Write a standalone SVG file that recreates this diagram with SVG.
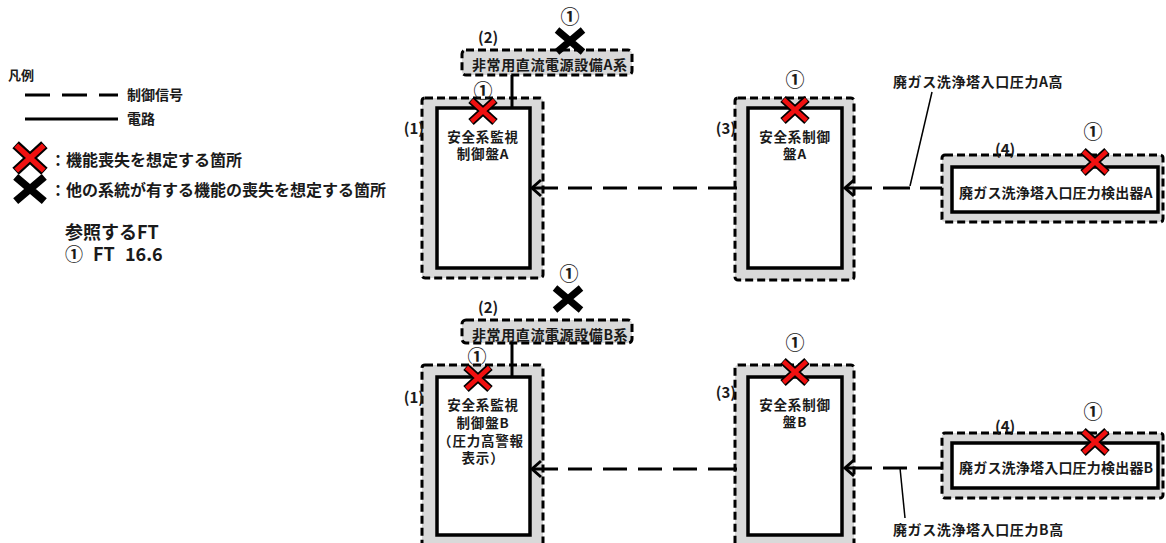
<svg xmlns="http://www.w3.org/2000/svg" width="1166" height="543" viewBox="0 0 1166 543">
<style>
text{font-family:"Noto Sans CJK JP","Noto Sans CJK SC",sans-serif;font-weight:bold;fill:#1a1a1a}
.t{font-size:14px;letter-spacing:0.6px}
.tc{font-size:13.5px;letter-spacing:0.8px;text-anchor:middle}
.num{font-size:19px;text-anchor:middle}
.lbl{font-size:15px}
.outer{fill:#d9d9d9;stroke:#000;stroke-width:3;stroke-dasharray:8 4}
.inner{fill:#fff;stroke:#000;stroke-width:3.5}
.sig{fill:none;stroke:#000;stroke-width:3}
.pwr{fill:none;stroke:#000;stroke-width:3}
.lead{fill:none;stroke:#000;stroke-width:1.5}
</style>
<defs>
<g id="rx"><path d="M-12,-11L12,11M-12,11L12,-11" stroke="#000" stroke-width="8"/><path d="M-11.5,-10.5L11.5,10.5M-11.5,10.5L11.5,-10.5" stroke="#f01010" stroke-width="4.5"/></g>
<g id="bx"><path d="M-13,-11L13,11M-13,11L13,-11" stroke="#000" stroke-width="7"/></g>
<marker id="ah" markerUnits="userSpaceOnUse" markerWidth="24" markerHeight="24" refX="0" refY="0" viewBox="-12 -12 24 24" orient="auto" overflow="visible"><path d="M-9,-8L0,0L-9,8" fill="none" stroke="#000" stroke-width="3"/></marker>
</defs>
<rect width="1166" height="543" fill="#fff"/>

<g id="legend">
<text x="8" y="80" style="font-size:13px">凡例</text>
<line x1="25" y1="95" x2="118" y2="95" stroke="#000" stroke-width="3" stroke-dasharray="25 12"/>
<text x="127" y="100" style="font-size:14px">制御信号</text>
<line x1="25" y1="119" x2="118" y2="119" stroke="#000" stroke-width="3"/>
<text x="127" y="124" style="font-size:14px">電路</text>
<use href="#rx" transform="translate(30,158) scale(1.2)"/>
<text x="50" y="166" style="font-size:16px">：機能喪失を想定する箇所</text>
<use href="#bx" transform="translate(30,189) scale(1.1)"/>
<text x="50" y="196" style="font-size:16px">：他の系統が有する機能の喪失を想定する箇所</text>
<text x="65" y="239" style="font-size:18px">参照するFT</text>
<text x="65" y="261" style="font-size:18px;word-spacing:6px">① FT 16.6</text>
</g>

<g id="node-power-A">
<rect class="outer" x="462" y="50" width="170" height="25" rx="4"/>
<text class="t" x="472" y="70">非常用直流電源設備A系</text>
<text class="lbl" x="478" y="43">(2)</text>
<text class="num" x="570" y="24">①</text>
<use href="#bx" transform="translate(570,41)"/>
</g>

<g id="node-1A">
<rect class="outer" x="422" y="98" width="121" height="180" rx="3"/>
<rect class="inner" x="437" y="108" width="93" height="160"/>
<text class="lbl" x="424" y="134" text-anchor="end">(1)</text>
<text class="tc" x="483" y="142">安全系監視</text>
<text class="tc" x="483" y="159">制御盤A</text>
<text class="num" x="483" y="98">①</text>
<use href="#rx" transform="translate(483,111)"/>
</g>

<g id="node-3A">
<rect class="outer" x="735" y="98" width="119" height="182" rx="3"/>
<rect class="inner" x="748" y="108" width="94" height="160"/>
<text class="lbl" x="736" y="134" text-anchor="end">(3)</text>
<text class="tc" x="795" y="142">安全系制御</text>
<text class="tc" x="795" y="159">盤A</text>
<text class="num" x="795" y="87">①</text>
<use href="#rx" transform="translate(795,110)"/>
</g>

<g id="node-4A">
<rect class="outer" x="942" y="155" width="221" height="67" rx="3"/>
<rect class="inner" x="952" y="167" width="206" height="45"/>
<text x="959" y="198" style="font-size:14px;letter-spacing:0.2px">廃ガス洗浄塔入口圧力検出器A</text>
<text class="lbl" x="995" y="155">(4)</text>
<text class="num" x="1093" y="139">①</text>
<use href="#rx" transform="translate(1095,162)"/>
</g>

<g id="label-A">
<text class="t" x="893" y="87">廃ガス洗浄塔入口圧力A高</text>
</g>

<g id="node-power-B">
<rect class="outer" x="462" y="320" width="170" height="23" rx="4"/>
<text class="t" x="472" y="340">非常用直流電源設備B系</text>
<text class="lbl" x="478" y="313">(2)</text>
<text class="num" x="569" y="281">①</text>
<use href="#bx" transform="translate(568,299)"/>
</g>

<g id="node-1B">
<rect class="outer" x="422" y="365" width="121" height="190" rx="3"/>
<rect class="inner" x="437" y="377" width="93" height="158"/>
<text class="lbl" x="424" y="403" text-anchor="end">(1)</text>
<text class="tc" x="483" y="410">安全系監視</text>
<text class="tc" x="483" y="428">制御盤B</text>
<text class="tc" x="481" y="446">（圧力高警報</text>
<text class="tc" x="483" y="463">表示）</text>
<text class="num" x="477" y="364">①</text>
<use href="#rx" transform="translate(478,378)"/>
</g>

<g id="node-3B">
<rect class="outer" x="735" y="365" width="119" height="190" rx="3"/>
<rect class="inner" x="748" y="377" width="94" height="158"/>
<text class="lbl" x="736" y="398" text-anchor="end">(3)</text>
<text class="tc" x="795" y="410">安全系制御</text>
<text class="tc" x="795" y="427">盤B</text>
<text class="num" x="795" y="350">①</text>
<use href="#rx" transform="translate(795,372)"/>
</g>

<g id="node-4B">
<rect class="outer" x="942" y="433" width="221" height="65" rx="3"/>
<rect class="inner" x="952" y="443" width="206" height="45"/>
<text x="959" y="473" style="font-size:14px;letter-spacing:0.2px">廃ガス洗浄塔入口圧力検出器B</text>
<text class="lbl" x="995" y="432">(4)</text>
<text class="num" x="1093" y="419">①</text>
<use href="#rx" transform="translate(1095,442)"/>
</g>

<g id="label-B">
<text class="t" x="893" y="535">廃ガス洗浄塔入口圧力B高</text>
</g>

<g id="connectors">
<path class="pwr" d="M512,75V108"/>
<path class="pwr" d="M512,343V377"/>
<path class="sig" marker-end="url(#ah)" d="M737,188H708M697,188H673M662,188H638M627,188H603M592,188H568M558,188H532"/>
<path class="sig" marker-end="url(#ah)" d="M942,188H920M910,188H883M872,188H845"/>
<path class="sig" marker-end="url(#ah)" d="M737,469H708M697,469H673M662,469H638M627,469H603M592,469H568M558,469H532"/>
<path class="sig" marker-end="url(#ah)" d="M942,468H918M907,468H883M872,468H845"/>
<path class="lead" d="M932,92L910,186"/>
<path class="lead" d="M900,468L905,518"/>
</g>
</svg>
